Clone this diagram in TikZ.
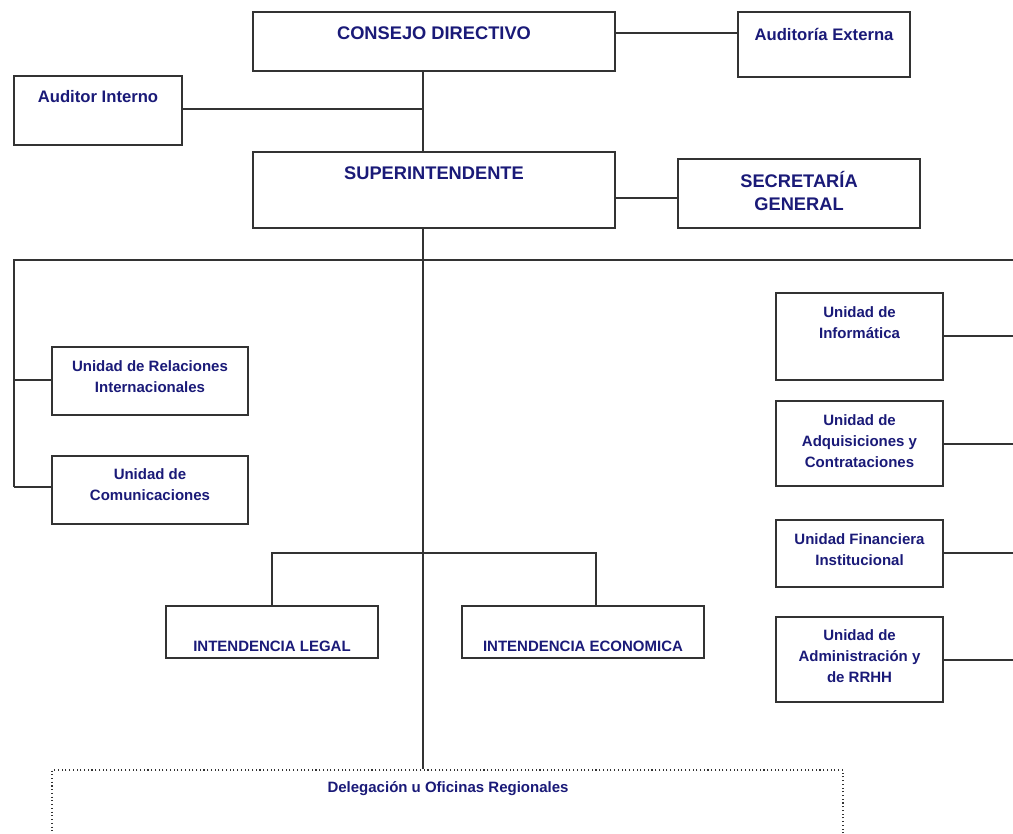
\documentclass[tikz,border=0pt]{standalone}
\usepackage{fontspec}
\setmainfont{Liberation Sans}
\usetikzlibrary{fit}
\definecolor{navy}{HTML}{1A1A78}
\definecolor{ln}{HTML}{333333}
\tikzset{
  box/.style={draw=ln, line width=1.1pt, inner sep=0pt},
  dotbox/.style={draw=ln, dotted, line width=0.8pt, inner sep=0pt},
  lbl/.style={text=navy, anchor=base, align=center, inner sep=0pt},
  big/.style={lbl, font=\fontsize{13.7}{17.25}\selectfont\bfseries},
  mid/.style={lbl, font=\fontsize{12.5}{15.4}\selectfont\bfseries},
  small/.style={lbl, font=\fontsize{11.25}{15.4}\selectfont\bfseries},
  conn/.style={draw=ln, line width=1.1pt},
}
\begin{document}
\begin{tikzpicture}[x=0.75pt,y=-0.75pt]
\useasboundingbox (0,0) rectangle (1013,834);
\clip (0,0) rectangle (1013,834);
\fill[white] (0,0) rectangle (1013,834);

% coordinates
\coordinate (sp) at (423,0);
\coordinate (lft) at (14,0);
\coordinate (rgt) at (1013,0);

% boxes
\node[box, fit={(253,12) (615,71)}] (cd) {};
\node[box, fit={(738,12) (910,77)}] (ae) {};
\node[box, fit={(14,76) (182,145)}] (ai) {};
\node[box, fit={(253,152) (615,228)}] (si) {};
\node[box, fit={(678,159) (920,228)}] (sg) {};
\node[box, fit={(52,347) (248,415)}] (uri) {};
\node[box, fit={(52,456) (248,524)}] (uc) {};
\node[box, fit={(776,293) (943,380)}] (ui) {};
\node[box, fit={(776,401) (943,486)}] (ua) {};
\node[box, fit={(776,520) (943,587)}] (uf) {};
\node[box, fit={(776,617) (943,702)}] (ur) {};
\node[box, fit={(166,606) (378,658)}] (il) {};
\node[box, fit={(462,606) (704,658)}] (ie) {};
\node[dotbox, fit={(52,770) (843,860)}] (dl) {};

% labels (multi-line labels: base = last line)
\node[big] (cdt) at (434,40) {CONSEJO DIRECTIVO};
\node[mid] (aet) at (824,40.5) {Auditoría Externa};
\node[mid] (ait) at (98,103) {Auditor Interno};
\node[big] (sit) at (434,180) {SUPERINTENDENTE};
\node[big] (sgt) at (799,211) {SECRETARÍA\\GENERAL};
\node[small] (urit) at (150,392.5) {Unidad de Relaciones\\Internacionales};
\node[small] (uct) at (150,500.5) {Unidad de\\Comunicaciones};
\node[small] (uit) at (859.5,338) {Unidad de\\Informática};
\node[small] (uat) at (859.5,467) {Unidad de\\Adquisiciones y\\Contrataciones};
\node[small] (uft) at (859.5,565) {Unidad Financiera\\Institucional};
\node[small] (urt) at (859.5,682) {Unidad de\\Administración y\\de RRHH};
\node[small] (ilt) at (272,651) {INTENDENCIA LEGAL};
\node[small] (iet) at (583,651) {INTENDENCIA ECONOMICA};
\node[small] (dlt) at (448,792.5) {Delegación u Oficinas Regionales};

% connectors
\draw[conn] (cd.east |- 0,33) -- (ae.west |- 0,33);
\draw[conn] (cd.south -| sp) -- (si.north -| sp);
\draw[conn] (ai.east |- 0,109) -- (sp |- 0,109);
\draw[conn] (si.east |- 0,198) -- (sg.west |- 0,198);
\draw[conn] (si.south -| sp) -- (dl.north -| sp);
\draw[conn] (lft |- 0,487) -- (lft |- 0,260) -- (rgt |- 0,260);
\draw[conn] (lft |- 0,380) -- (uri.west |- 0,380);
\draw[conn] (lft |- 0,487) -- (uc.west |- 0,487);
\draw[conn] (ui.east |- 0,336) -- (rgt |- 0,336);
\draw[conn] (ua.east |- 0,444) -- (rgt |- 0,444);
\draw[conn] (uf.east |- 0,553) -- (rgt |- 0,553);
\draw[conn] (ur.east |- 0,660) -- (rgt |- 0,660);
\draw[conn] (il.north) -- (il.north |- 0,553) -- (596,553) -- (ie.north -| 596,0);
\end{tikzpicture}
\end{document}
